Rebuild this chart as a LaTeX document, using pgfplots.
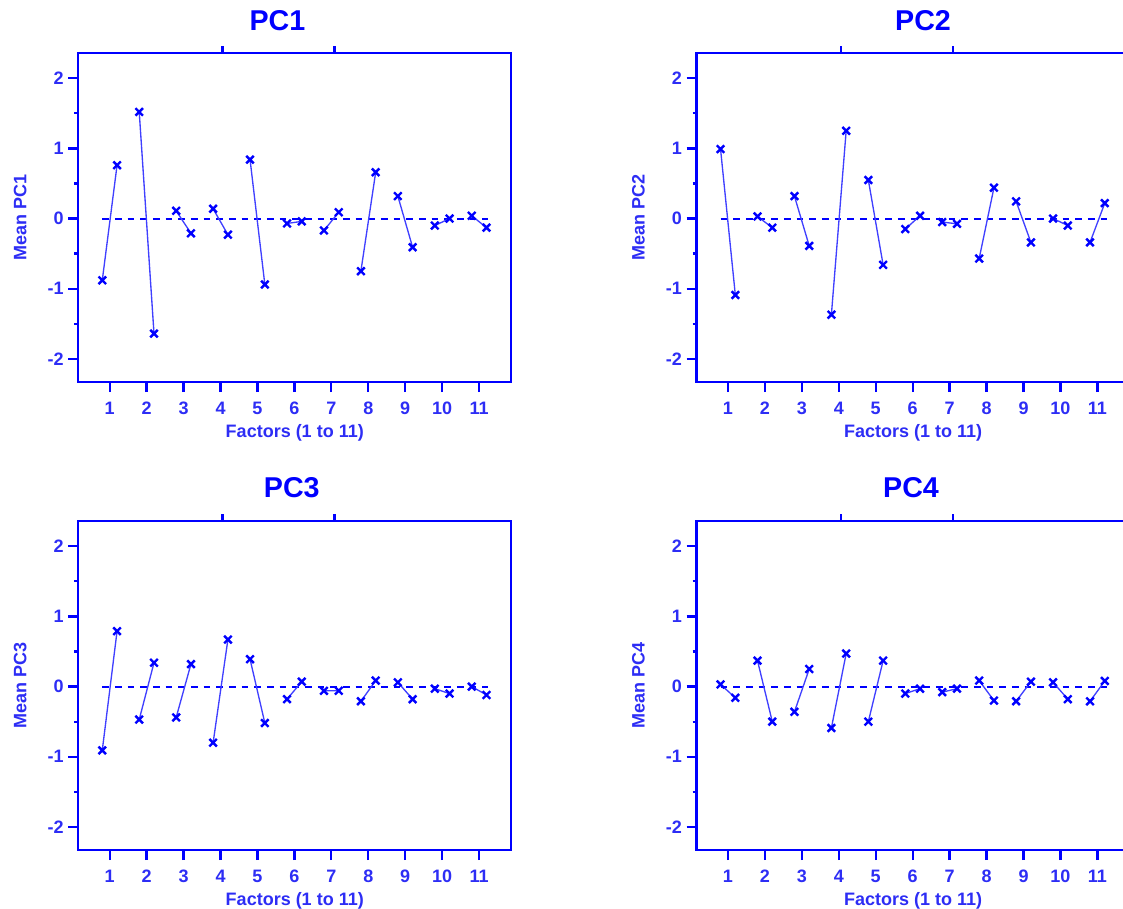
\documentclass[border=0pt]{standalone}
\usepackage{fontspec}
\setmainfont{Liberation Sans}
\usepackage{pgfplots}
\usepackage{pgfplotstable}
\pgfplotsset{compat=1.18}

\definecolor{pcblue}{RGB}{0,0,255}
\definecolor{lblblue}{RGB}{45,45,245}

% mean response at the two levels of each factor, nan breaks the line
\pgfplotstableread{
x y
0.8 -0.88
1.2 0.76
1.5 nan
1.8 1.52
2.2 -1.64
2.5 nan
2.8 0.11
3.2 -0.21
3.5 nan
3.8 0.14
4.2 -0.23
4.5 nan
4.8 0.84
5.2 -0.94
5.5 nan
5.8 -0.07
6.2 -0.04
6.5 nan
6.8 -0.17
7.2 0.09
7.5 nan
7.8 -0.75
8.2 0.66
8.5 nan
8.8 0.32
9.2 -0.41
9.5 nan
9.8 -0.10
10.2 0.00
10.5 nan
10.8 0.04
11.2 -0.13
}\pcone

\pgfplotstableread{
x y
0.8 0.99
1.2 -1.09
1.5 nan
1.8 0.03
2.2 -0.13
2.5 nan
2.8 0.32
3.2 -0.39
3.5 nan
3.8 -1.37
4.2 1.25
4.5 nan
4.8 0.55
5.2 -0.66
5.5 nan
5.8 -0.15
6.2 0.04
6.5 nan
6.8 -0.05
7.2 -0.075
7.5 nan
7.8 -0.57
8.2 0.44
8.5 nan
8.8 0.245
9.2 -0.34
9.5 nan
9.8 0.00
10.2 -0.10
10.5 nan
10.8 -0.34
11.2 0.22
}\pctwo

\pgfplotstableread{
x y
0.8 -0.91
1.2 0.79
1.5 nan
1.8 -0.47
2.2 0.34
2.5 nan
2.8 -0.44
3.2 0.32
3.5 nan
3.8 -0.80
4.2 0.67
4.5 nan
4.8 0.39
5.2 -0.52
5.5 nan
5.8 -0.18
6.2 0.07
6.5 nan
6.8 -0.06
7.2 -0.06
7.5 nan
7.8 -0.21
8.2 0.085
8.5 nan
8.8 0.06
9.2 -0.18
9.5 nan
9.8 -0.03
10.2 -0.10
10.5 nan
10.8 0.00
11.2 -0.12
}\pcthree

\pgfplotstableread{
x y
0.8 0.03
1.2 -0.16
1.5 nan
1.8 0.37
2.2 -0.50
2.5 nan
2.8 -0.36
3.2 0.25
3.5 nan
3.8 -0.59
4.2 0.47
4.5 nan
4.8 -0.50
5.2 0.37
5.5 nan
5.8 -0.10
6.2 -0.03
6.5 nan
6.8 -0.08
7.2 -0.03
7.5 nan
7.8 0.085
8.2 -0.20
8.5 nan
8.8 -0.21
9.2 0.07
9.5 nan
9.8 0.06
10.2 -0.18
10.5 nan
10.8 -0.21
11.2 0.08
}\pcfour

\pgfplotsset{
  pcaxis/.style={
    scale only axis,
    width=324.75pt, height=246.75pt,
    anchor=north west,
    xmin=0.15, xmax=11.87,
    ymin=-2.33, ymax=2.36,
    xtick={1,...,11},
    ytick={-2,-1,0,1,2},
    yticklabels={-2,-1,0,1,2},
    minor ytick={-1.5,-0.5,0.5,1.5},
    tick pos=left,
    tick align=outside,
    major tick length=7.5pt,
    minor tick length=3pt,
    tick style={pcblue, line width=1.7pt},
    axis line style={pcblue, line width=1.8pt},
    /pgf/number format/assume math mode=true,
    ticklabel style={font=\bfseries\fontsize{13.5}{16}\selectfont, text=lblblue},
    xticklabel style={yshift=-4pt},
    label style={font=\bfseries\fontsize{13.5}{16}\selectfont, text=lblblue},
    xlabel={Factors (1 to 11)},
    xlabel style={at={(axis description cs:0.5,-0.154)}, anchor=center},
    ylabel style={at={(axis description cs:-0.134,0.5)}, anchor=center},
    unbounded coords=jump,
    clip=false,
  },
  zeroline/.style={pcblue, line width=1.5pt, dash pattern=on 5pt off 4.5pt, forget plot},
  pairline/.style={blue!75, line width=1pt, mark=x, mark size=4pt,
    mark options={pcblue, line width=1.8pt, solid}},
}

\newcommand{\pctopticks}{%
  \draw[pcblue, line width=2pt] (axis cs:4.06,2.36) -- ([yshift=5pt]axis cs:4.06,2.36);
  \draw[pcblue, line width=2pt] (axis cs:7.09,2.36) -- ([yshift=5pt]axis cs:7.09,2.36);
}

\begin{document}
\begin{tikzpicture}
\path[use as bounding box] (0,0) rectangle (842.25pt,-681.75pt);
\clip (0,0) rectangle (842.25pt,-681.75pt);

\begin{axis}[pcaxis, at={(58.7pt,-39.75pt)}, ylabel={Mean PC1}]
\addplot[zeroline] coordinates {(0.8,0) (11.25,0)};
\addplot[pairline] table {\pcone};
\pctopticks
\end{axis}

\begin{axis}[pcaxis, at={(522.4pt,-39.75pt)}, ylabel={Mean PC2}]
\addplot[zeroline] coordinates {(0.8,0) (11.25,0)};
\addplot[pairline] table {\pctwo};
\pctopticks
\end{axis}

\begin{axis}[pcaxis, at={(58.7pt,-390.75pt)}, ylabel={Mean PC3}]
\addplot[zeroline] coordinates {(0.8,0) (11.25,0)};
\addplot[pairline] table {\pcthree};
\pctopticks
\end{axis}

\begin{axis}[pcaxis, at={(522.4pt,-390.75pt)}, ylabel={Mean PC4}]
\addplot[zeroline] coordinates {(0.8,0) (11.25,0)};
\addplot[pairline] table {\pcfour};
\pctopticks
\end{axis}

\node[font=\bfseries\fontsize{21.5}{24}\selectfont, text=pcblue] at (208.1pt,-15.6pt) {PC1};
\node[font=\bfseries\fontsize{21.5}{24}\selectfont, text=pcblue] at (692.25pt,-15.6pt) {PC2};
\node[font=\bfseries\fontsize{21.5}{24}\selectfont, text=pcblue] at (218.85pt,-366pt) {PC3};
\node[font=\bfseries\fontsize{21.5}{24}\selectfont, text=pcblue] at (683.25pt,-366pt) {PC4};
\end{tikzpicture}
\end{document}
